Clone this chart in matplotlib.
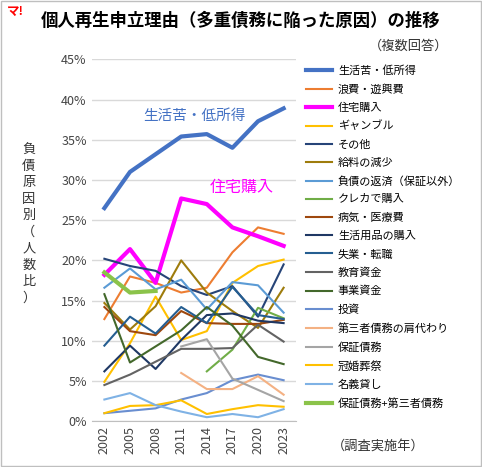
import numpy as np
import matplotlib.pyplot as plt

plt.rcParams['font.family'] = ['Noto Sans CJK JP', 'DejaVu Sans']

years = ['2002', '2005', '2008', '2011', '2014', '2017', '2020', '2023']
nan = np.nan

names = ['生活苦・低所得', '浪費・遊興費', '住宅購入', 'ギャンブル', 'その他', '給料の減少',
         '負債の返済（保証以外）', 'クレカで購入', '病気・医療費', '生活用品の購入', '失業・転職',
         '教育資金', '事業資金', '投資', '第三者債務の肩代わり', '保証債務', '冠婚葬祭', '名義貸し',
         '保証債務+第三者債務']
values = [
    [26.5, 31.0, 33.2, 35.4, 35.7, 34.0, 37.3, 38.9],
    [12.7, 18.0, 17.2, 16.0, 16.6, 21.0, 24.1, 23.3],
    [18.2, 21.4, 17.2, 27.7, 27.0, 24.1, 23.0, 21.8],
    [4.9, 9.7, 15.5, 10.1, 11.2, 17.2, 19.3, 20.1],
    [20.2, 19.3, 18.7, 16.8, 15.7, 16.8, 13.0, 19.5],
    [14.7, 11.4, 14.3, 20.0, 16.0, 13.7, 11.6, 16.6],
    [16.6, 19.0, 16.4, 17.6, 13.9, 17.3, 16.9, 13.5],
    [nan, nan, nan, nan, 6.2, 8.9, 14.1, 12.8],
    [14.2, 11.2, 10.7, 13.7, 12.2, 12.1, 12.1, 12.6],
    [6.2, 9.4, 6.5, 10.1, 13.2, 13.4, 12.5, 12.2],
    [9.4, 13.0, 10.9, 14.2, 12.2, 16.7, 13.2, 12.7],
    [4.5, 5.8, 7.4, 9.0, 9.0, 9.1, 12.0, 9.9],
    [15.8, 7.3, 9.3, 11.3, 14.2, 11.9, 8.0, 7.1],
    [1.0, 1.3, 1.6, 2.7, 3.5, 5.1, 5.8, 5.1],
    [nan, nan, nan, 6.0, 4.0, 4.0, 5.6, 3.3],
    [nan, nan, nan, 9.3, 10.2, 5.3, 3.9, 2.5],
    [1.0, 1.9, 2.0, 2.6, 0.9, 1.5, 2.0, 1.8],
    [2.7, 3.5, 2.0, 1.2, 0.5, 0.9, 0.5, 1.5],
    [18.5, 16.0, 16.2, nan, nan, nan, nan, nan],
]
colors = ['#4472C4', '#ED7D31', '#FF00FF', '#FFC000', '#264478', '#9E7C0C',
          '#5B9BD5', '#70AD47', '#9E480E', '#1F3864', '#255E91', '#636363',
          '#43682B', '#698ED0', '#F4B183', '#A5A5A5', '#FFC000', '#7FB2E5', '#8BC34A']
widths = [3] * 1 + [1.5] + [3] + [1.5] * 15 + [3]

fig = plt.figure(figsize=(4.82, 4.67), dpi=100)
ax = fig.add_axes([0.19, 0.098, 0.425, 0.775])
x = np.arange(len(years))
for n, v, c, w in zip(names, values, colors, widths):
    ax.plot(x, v, color=c, lw=w, label=n)

ax.set_ylim(0, 45)
ax.set_yticks(np.arange(0, 46, 5))
ax.set_yticklabels([f'{t}%' for t in range(0, 46, 5)], fontsize=9, color='#444444')
ax.set_xlim(-0.5, 7.5)
ax.set_xticks(x)
ax.set_xticklabels(years, rotation=90, fontsize=9, color='#444444')
ax.grid(axis='y', color='#d9d9d9', lw=1)
ax.set_axisbelow(True)
for s in ['top', 'right', 'left']:
    ax.spines[s].set_visible(False)
ax.spines['bottom'].set_color('#bfbfbf')
ax.tick_params(length=0)

ax.text(1.5, 37.5, '生活苦・低所得', color='#4472C4', fontsize=10.5)
ax.text(4.1, 28.5, '住宅購入', color='#FF00FF', fontsize=11.5)

fig.text(0.06, 0.52, '負\n債\n原\n因\n別\n（\n人\n数\n比\n）', fontsize=9.5,
         ha='center', va='center', linespacing=1.35, color='#333333')
fig.text(0.085, 0.955, '個人再生申立理由（多重債務に陥った原因）の推移', fontsize=12.5,
         fontweight='bold', va='center')
fig.text(0.015, 0.975, 'マ!', color='red', fontsize=9, fontweight='bold', va='center')
fig.text(0.93, 0.9, '（複数回答）', fontsize=9.5, ha='right', va='center', color='#333333')
fig.text(0.88, 0.045, '（調査実施年）', fontsize=9.5, ha='right', va='center', color='#333333')

fig.legend(loc='upper left', bbox_to_anchor=(0.625, 0.87), frameon=False, fontsize=8,
           handlelength=2.4, labelspacing=0.72, borderaxespad=0, handletextpad=0.5)

fig.patches.append(plt.Rectangle((0.003, 0.003), 0.994, 0.994, transform=fig.transFigure,
                                 fill=False, edgecolor='#bfbfbf', lw=1))
fig.savefig('out.png', dpi=100)
